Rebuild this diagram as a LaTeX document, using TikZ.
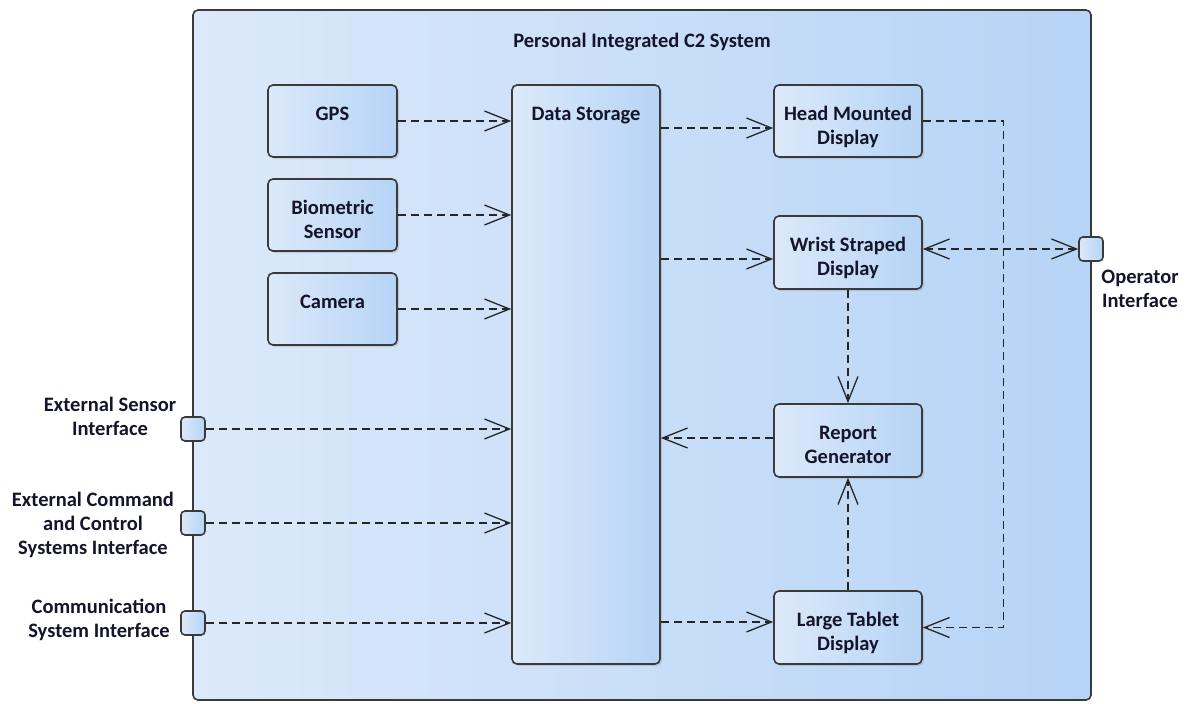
\documentclass[tikz,border=0pt]{standalone}
\usepackage{fontspec}
\setmainfont{Carlito}
\usetikzlibrary{arrows.meta,shadows,calc}
\definecolor{lightb}{HTML}{DCE9FA}
\definecolor{darkb}{HTML}{B6D4F6}
\definecolor{edgec}{HTML}{3A3A3A}
\definecolor{txt}{HTML}{14142A}
\tikzset{
  txtfont/.style={font=\bfseries\fontsize{20.5}{24}\selectfont, text=txt, align=center, inner sep=0pt},
  box/.style={draw=edgec, line width=1.6pt, rounded corners=5pt, left color=lightb, right color=darkb,
    inner sep=0pt,
    drop shadow={shadow xshift=2pt, shadow yshift=-2pt, opacity=0.25, fill=gray}},
  btext/.style={label={[txtfont, anchor=base, yshift=-36pt]north:{#1}}},
  btextii/.style={label={[txtfont, anchor=base, yshift=-60pt]north:{#1}}},
  outer/.style={draw=edgec, line width=1.6pt, rounded corners=5pt, left color=lightb, right color=darkb, inner sep=0pt},
  port/.style={draw=edgec, line width=1.6pt, rounded corners=4pt, minimum size=24pt, left color=lightb, right color=darkb, inner sep=0pt},
  lbl/.style={txtfont, anchor=base},
  tip/.tip={Straight Barb[length=25pt, width=20pt, line width=1.3pt]},
  conn/.style={draw=black!85, line width=1.3pt, dash pattern=on 8pt off 5pt, -tip},
  bconn/.style={conn, tip-tip}
}
\begin{document}
\begin{tikzpicture}[x=1pt, y=-1pt]
\useasboundingbox (0,0) rectangle (1189,704);
\node (sys) [outer, minimum width=898pt, minimum height=690pt] at (642,355) {};
\node (title) [txtfont, anchor=base] at (642,47) {Personal Integrated C2 System};

\node (gps) [box, minimum width=129pt, minimum height=72pt, btext={GPS}] at (332.5,121) {};
\node (bio) [box, minimum width=129pt, minimum height=72pt, btextii={Biometric\\Sensor}] at (332.5,215) {};
\node (cam) [box, minimum width=129pt, minimum height=72pt, btext={Camera}] at (332.5,309) {};
\node (ds) [box, minimum width=148pt, minimum height=579pt, btext={Data Storage}] at (586,374.5) {};
\node (hmd) [box, minimum width=148pt, minimum height=72pt, btextii={Head Mounted\\Display}] at (848,121) {};
\node (wrist) [box, minimum width=148pt, minimum height=73pt, btextii={Wrist Straped\\Display}] at (848,252.5) {};
\node (rep) [box, minimum width=148pt, minimum height=73pt, btextii={Report\\Generator}] at (848,440.5) {};
\node (lt) [box, minimum width=148pt, minimum height=73pt, btextii={Large Tablet\\Display}] at (848,627.5) {};

\node (p1) [port] at (193,429) {};
\node (p2) [port] at (193,523) {};
\node (p3) [port] at (193,623) {};
\node (op) [port] at (1091,249) {};

\node (l1) [lbl] at (110,435) {External Sensor\\Interface};
\node (l2) [lbl] at (93,554) {External Command\\and Control\\Systems Interface};
\node (l3) [lbl] at (99,637) {Communication\\System Interface};
\node (l4) [lbl] at (1140,307) {Operator\\Interface};

\draw[conn] (gps.east) -- (gps.east -| ds.west);
\draw[conn] (bio.east) -- (bio.east -| ds.west);
\draw[conn] (cam.east) -- (cam.east -| ds.west);
\draw[conn] (p1.east) -- (p1.east -| ds.west);
\draw[conn] (p2.east) -- (p2.east -| ds.west);
\draw[conn] (p3.east) -- (p3.east -| ds.west);
\draw[conn] ([yshift=-7pt]hmd.west -| ds.east) -- ([yshift=-7pt]hmd.west);
\draw[conn] ([yshift=-6.5pt]wrist.west -| ds.east) -- ([yshift=-6.5pt]wrist.west);
\draw[conn] ([yshift=5.5pt]lt.west -| ds.east) -- ([yshift=5.5pt]lt.west);
\draw[conn] ([yshift=2.5pt]rep.west) -- ([yshift=2.5pt]rep.west -| ds.east);
\draw[conn] (wrist.south) -- (rep.north);
\draw[conn] (lt.north) -- (rep.south);
\draw[bconn] (op.west -| wrist.east) -- (op.west);
\draw[conn] (hmd.east) -- ++(81,0) |- (lt.east);
\end{tikzpicture}
\end{document}
